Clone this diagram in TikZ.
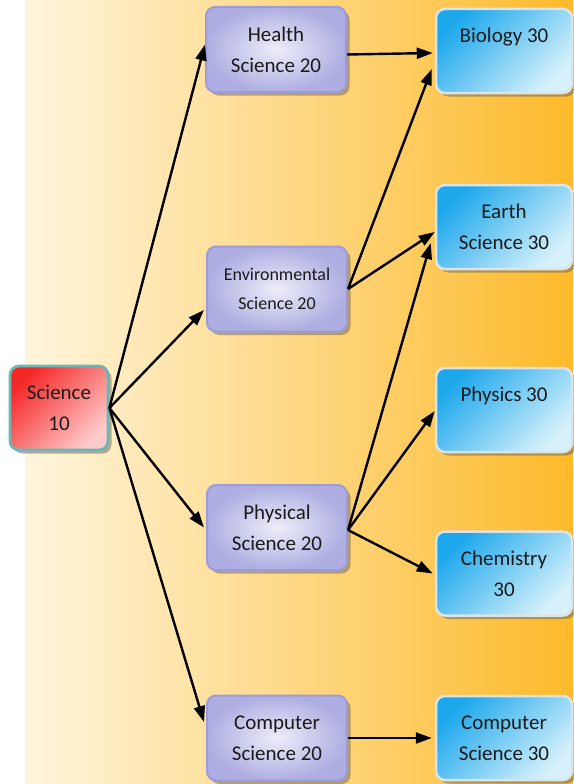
\documentclass[tikz,border=0pt]{standalone}
\usepackage{fontspec}
\setmainfont{Carlito}
\usetikzlibrary{arrows.meta,shadows,calc}
\definecolor{bgA}{HTML}{FFF5DD}
\definecolor{bgM}{HTML}{FEDDA2}
\definecolor{bgB}{HTML}{FDBA2A}
\definecolor{redA}{HTML}{F52828}
\definecolor{redB}{HTML}{FFCACA}
\definecolor{redBorder}{HTML}{6DB6B8}
\definecolor{purIn}{HTML}{EDEDF9}
\definecolor{purOut}{HTML}{AEAEE2}
\definecolor{purBorder}{HTML}{9C9CDC}
\definecolor{bluA}{HTML}{1EA8EC}
\definecolor{bluB}{HTML}{D6F1FB}
\definecolor{bluBorder}{HTML}{DCE4E8}
\definecolor{txt}{HTML}{1A1A1A}
\definecolor{shad}{HTML}{6E6456}
\tikzset{
  basebox/.style={rounded corners=9pt, align=center, text=txt, inner sep=0pt,
    font=\fontsize{21}{31}\selectfont,
    drop shadow={shadow xshift=3.5pt, shadow yshift=-3.5pt, fill=shad, opacity=0.5}},
  redbox/.style={basebox, minimum width=98pt, minimum height=84pt,
    draw=redBorder, line width=2.8pt, top color=redA, bottom color=redB, shading angle=45},
  purbox/.style={basebox, minimum width=140pt, minimum height=85pt,
    draw=purBorder, line width=2pt, inner color=purIn, outer color=purOut},
  blubox/.style={basebox, minimum width=136pt, minimum height=84pt,
    draw=bluBorder, line width=2.5pt, top color=bluA, bottom color=bluB, shading angle=45},
  arr/.style={draw=black, line width=2.4pt, -{Triangle[length=16pt,width=11pt]}}
}
\begin{document}
\begin{tikzpicture}[x=1pt,y=-1pt]
\useasboundingbox (0,0) rectangle (573,784);
\fill[white] (0,0) rectangle (25,784);
\fill[left color=bgA, middle color=bgM, right color=bgB] (25,0) rectangle (573,784);

\node[redbox] (sci) at (59,408) {Science\\10};

\node[purbox] (hs) at (276,49.5) {Health\\Science 20};
\node[purbox, font=\fontsize{18}{29}\selectfont] (es) at (277,289) {Environmental\\Science 20};
\node[purbox] (ps) at (277,527.5) {Physical\\Science 20};
\node[purbox] (cs2) at (277,738) {Computer\\Science 20};

\node[blubox] (bio) at (504,51) {Biology 30\\\mbox{}};
\node[blubox] (ear) at (504,227) {Earth\\Science 30};
\node[blubox] (phy) at (504,410) {Physics 30\\\mbox{}};
\node[blubox] (che) at (504,573.5) {Chemistry\\30};
\node[blubox] (cs3) at (504,738) {Computer\\Science 30};

\draw[arr] (sci.east) -- ($(hs.west)+(0,-5)$);
\draw[arr] (sci.east) -- ($(es.west)+(-2,21)$);
\draw[arr] (sci.east) -- ($(ps.west)+(-2,0)$);
\draw[arr] (sci.east) -- ($(cs2.west)+(-2,-16)$);

\draw[arr] ($(hs.east)+(0,5)$) -- ($(bio.west)+(-2,2)$);
\draw[arr] (es.east) -- ($(bio.west)+(-3,18)$);
\draw[arr] (es.east) -- ($(ear.west)+(0,5)$);
\draw[arr] ($(ps.east)+(0,2.5)$) -- ($(ear.west)+(-4,16)$);
\draw[arr] ($(ps.east)+(0,2.5)$) -- ($(phy.west)+(0,1)$);
\draw[arr] ($(ps.east)+(0,2.5)$) -- ($(che.west)+(-2,0)$);
\draw[arr] (cs2.east) -- ($(cs3.west)+(-3,0)$);
\end{tikzpicture}
\end{document}
